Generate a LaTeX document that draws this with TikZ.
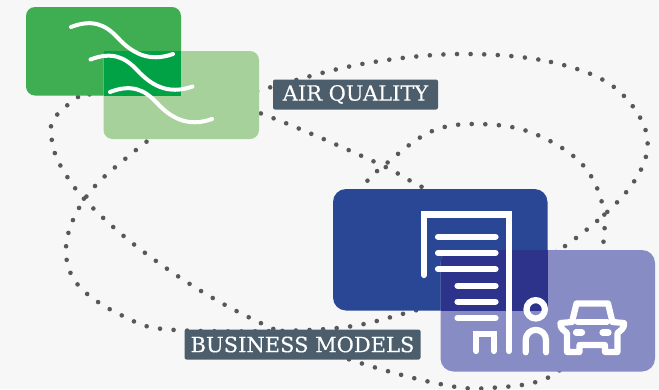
\documentclass[tikz,border=0pt]{standalone}
\usepackage{fontspec}
\setmainfont{DejaVu Serif}[FakeBold=0.25]
\definecolor{paper}{RGB}{247,247,247}
\definecolor{dotgrey}{RGB}{88,88,90}
\definecolor{slate}{RGB}{76,94,108}
\definecolor{airgreen}{RGB}{63,173,82}
\definecolor{palegreen}{RGB}{167,209,155}
\definecolor{deepgreen}{RGB}{0,162,69}
\definecolor{modelblue}{RGB}{42,71,150}
\definecolor{palelilac}{RGB}{135,140,196}
\definecolor{deepblue}{RGB}{45,50,138}
\tikzset{
    dots/.style={dotgrey, line width=4.6pt, line cap=round, dash pattern=on 0pt off 13.6pt},
    tag/.style={fill=slate, text=white, rounded corners=2pt, inner sep=0pt,
        minimum height=30pt, font=\fontsize{21}{21}\selectfont},
    wave/.style={white, line width=4pt, line cap=round},
    icon/.style={white, line width=6.2pt, line cap=round, line join=round}
}
\begin{document}
\begin{tikzpicture}[x=1pt, y=-1pt]
    \fill[paper] (0, 0) rectangle (659, 389);
    \useasboundingbox (0, 0) rectangle (659, 389);

    % rings of dots
    \draw[dots] plot[smooth cycle, tension=.6] coordinates {(469,54) (551,62) (614,87)
        (647,136) (631,186) (572,241) (500,283) (406,313) (326,329) (175,330) (123,316)
        (78,285) (66,247) (82,203) (119,164) (190,115) (307,77) (387,60)};
    \draw[dots] plot[smooth, tension=.6] coordinates {(78,97) (53,120) (53,146) (63,170)
        (87,202) (136,246) (201,291) (267,326) (345,358) (435,383) (490,388) (556,373)
        (600,310) (560,255) (480,215) (420,186) (375,162) (265,115) (170,85) (78,97)};
    \draw[dots] plot[smooth, tension=.6] coordinates {(345,230) (363,187) (387,163) (430,132)
        (474,124) (530,132) (582,164) (604,212) (600,265)};

    % boxes
    \fill[airgreen, rounded corners=9pt] (26, 7) rectangle (181, 95.5);
    \fill[palegreen, rounded corners=9pt] (103.5, 51) rectangle (259, 139);
    \fill[deepgreen] (103.5, 51) rectangle (181, 95.5);
    \fill[modelblue, rounded corners=13pt] (333, 189) rectangle (547.5, 310.5);
    \fill[palelilac, rounded corners=13pt] (440.5, 250) rectangle (655, 371.5);
    \begin{scope}
        \clip[rounded corners=13pt] (440.5, 250) rectangle (655, 371.5);
        \fill[deepblue] (440.5, 250) rectangle (547.5, 310.5);
    \end{scope}

    % waves
    \draw[wave] (71, 27) .. controls (92, 19) and (105, 24) .. (118, 38)
        .. controls (131, 52) and (148, 63) .. (173, 54);
    \draw[wave] (90.5, 59.5) .. controls (111.5, 51.5) and (124.5, 56.5) .. (137.5, 70.5)
        .. controls (150.5, 84.5) and (167.5, 95.5) .. (192.5, 86.5);
    \draw[wave] (110, 92) .. controls (131, 84) and (144, 89) .. (157, 103)
        .. controls (170, 117) and (187, 128) .. (212, 119);

    % building
    \draw[icon, line join=miter] (424, 275) -- (424, 214.5) -- (509, 214.5) -- (509, 351);
    \draw[icon] (438, 236.7) -- (495.5, 236.7);
    \draw[icon] (438, 253) -- (495.5, 253);
    \draw[icon] (438, 269.3) -- (495.5, 269.3);
    \draw[icon] (457.5, 285.7) -- (495.5, 285.7);
    \draw[icon] (457.5, 301.7) -- (495.5, 301.7);
    \draw[icon] (457.5, 318) -- (495.5, 318);
    \draw[icon, line join=miter] (476.3, 351) -- (476.3, 334) -- (493.7, 334) -- (493.7, 351);

    % person
    \draw[icon] (535.7, 309.3) circle (9.2);
    \draw[icon] (525.7, 352.3) -- (525.7, 340) arc (180:360:10.15) -- (546, 352.3);

    % car
    \draw[icon] (576.5, 303.5) -- (608, 303.5) -- (612.5, 322) -- (624, 323)
        .. controls (625, 328) and (620, 331) .. (617.5, 333) -- (617.5, 352) -- (605, 352)
        -- (605, 345) -- (579.5, 345) -- (579.5, 352) -- (567, 352) -- (567, 333)
        .. controls (564.5, 331) and (559.5, 328) .. (560.5, 323) -- (572, 322) -- cycle;
    \draw[icon] (577.5, 321.7) -- (607, 321.7);
    \draw[icon] (576, 332.5) -- (582, 332.5);
    \draw[icon] (602.5, 332.5) -- (608.5, 332.5);

    % labels
    \node[tag, minimum width=165pt] (airquality) at (355.5, 94.5) {AIR QUALITY};
    \node[tag, minimum width=236pt] (businessmodels) at (302.5, 344.5) {BUSINESS MODELS};
\end{tikzpicture}
\end{document}
